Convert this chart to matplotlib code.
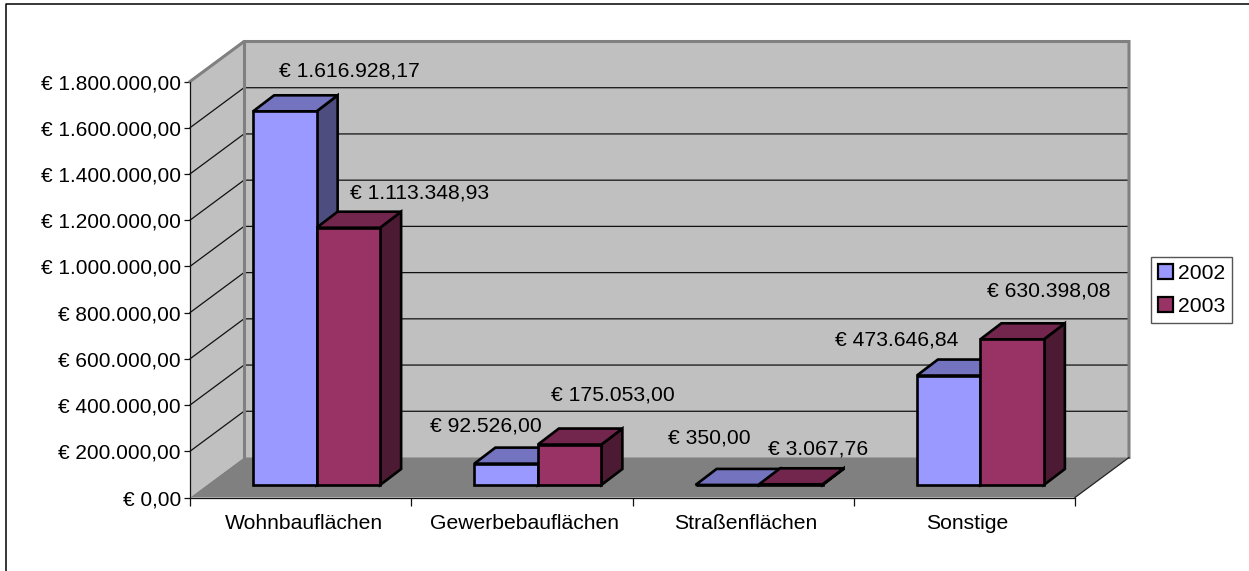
import matplotlib
matplotlib.use("Agg")
import matplotlib.pyplot as plt
from matplotlib.patches import Polygon, Rectangle
from matplotlib.ticker import FuncFormatter
from matplotlib.transforms import ScaledTranslation

plt.rcParams['font.family'] = ['Liberation Sans', 'DejaVu Sans']

categories = ["Wohnbauflächen", "Gewerbebauflächen", "Straßenflächen", "Sonstige"]
series_names = ["2002", "2003"]
values_2002 = [1616928.17, 92526.00, 350.00, 473646.84]
values_2003 = [1113348.93, 175053.00, 3067.76, 630398.08]
y_ticks = [0, 200000, 400000, 600000, 800000, 1000000, 1200000, 1400000, 1600000, 1800000]

W, H = 1249, 571
L, R, B, T = 190, 1075, 497.5, 81.5   # front plane in pixels
WALL_PX = (54, 40)
BAR_START_PX = (16, 12.5)
BAR_DEPTH_PX = (21, 16)
BAR_W_PX = 63.5
FS = 15.2

fig = plt.figure(figsize=(W / 100, H / 100), dpi=100, facecolor='white')
ax = fig.add_axes([L / W, (H - B) / H, (R - L) / W, (B - T) / H])
ymax = y_ticks[-1]
ax.set_xlim(0, len(categories))
ax.set_ylim(0, ymax)
ax.patch.set_visible(False)

px = (R - L) / len(categories)      # pixels per category
py = (B - T) / ymax                 # pixels per value unit


def d(dx_px, dy_px):
    return dx_px / px, dy_px / py


wx, wy = d(*WALL_PX)
n = len(categories)
grey = '#808080'
wall = '#C0C0C0'

# walls and floor
ax.add_patch(Polygon([(wx, wy), (n + wx, wy), (n + wx, ymax + wy), (wx, ymax + wy)],
                     fc=wall, ec='none', zorder=1, clip_on=False))
ax.add_patch(Polygon([(0, 0), (wx, wy), (wx, ymax + wy), (0, ymax)],
                     fc=wall, ec='none', zorder=1, clip_on=False))
ax.add_patch(Polygon([(0, 0), (n, 0), (n + wx, wy), (wx, wy)],
                     fc=grey, ec='none', zorder=1.5, clip_on=False))

# gridlines on the walls
for t in y_ticks[1:-1]:
    ax.plot([0, wx, n + wx], [t, t + wy, t + wy], color='#111111', lw=0.9, zorder=2, clip_on=False)

# wall borders
ax.plot([0, wx, n + wx, n + wx], [ymax, ymax + wy, ymax + wy, wy], color=grey, lw=2.2,
        zorder=2.5, clip_on=False, solid_joinstyle='miter')
ax.plot([wx, wx], [wy, ymax + wy], color=grey, lw=2.2, zorder=2.5, clip_on=False)
ax.plot([n, n + wx], [0, wy], color='#222222', lw=0.9, zorder=2.5, clip_on=False)

# bars
sx, sy = d(*BAR_START_PX)
bx, by = d(*BAR_DEPTH_PX)
bw = BAR_W_PX / px
styles = [('#9999FF', '#7373BF', '#4D4D80'), ('#993366', '#73264D', '#4D1A33')]
all_values = [values_2002, values_2003]
# offsets of the value labels from the middle of the bar top, in pixels
label_offsets = [[(65, 40), (-20, 38), (-18, 47), (-52, 36)],
                 [(71, 35), (43, 50), (27, 35), (37, 48)]]


def euro(v, _=None):
    s = f"{v:,.2f}".replace(",", "X").replace(".", ",").replace("X", ".")
    return "€ " + s


for i in range(n):
    for j, vals in enumerate(all_values):
        v = vals[i]
        x0 = i + 0.5 + sx + (j - 1) * bw
        x1 = x0 + bw
        y0, y1 = sy, sy + v
        front, top, side = styles[j]
        kw = dict(ec='black', lw=1.9, joinstyle='miter', clip_on=False, zorder=3 + j)
        ax.add_patch(Polygon([(x1, y0), (x1 + bx, y0 + by), (x1 + bx, y1 + by), (x1, y1)], fc=side, **kw))
        ax.add_patch(Polygon([(x0, y1), (x1, y1), (x1 + bx, y1 + by), (x0 + bx, y1 + by)], fc=top, **kw))
        ax.add_patch(Polygon([(x0, y0), (x1, y0), (x1, y1), (x0, y1)], fc=front, **kw))

for j, vals in enumerate(all_values):
    for i, v in enumerate(vals):
        xc = i + 0.5 + sx + (j - 0.5) * bw
        ox, oy = label_offsets[j][i]
        ax.annotate(euro(v), (xc, sy + v), xytext=(ox * 0.72, oy * 0.72), textcoords='offset points',
                    ha='center', va='center', fontsize=FS, color='black', zorder=10, annotation_clip=False)

# axes
for s in ('top', 'right'):
    ax.spines[s].set_visible(False)
for s in ('left', 'bottom'):
    ax.spines[s].set_linewidth(0.9)
    ax.spines[s].set_color('#111111')
    ax.spines[s].set_zorder(2.6)
ax.set_yticks(y_ticks)
ax.yaxis.set_major_formatter(FuncFormatter(euro))
ax.tick_params(axis='y', length=4, width=0.9, pad=2.5, labelsize=15.0, color='#111111')
ax.set_xticks(range(n + 1))
ax.set_xticklabels([''] * (n + 1))
ax.tick_params(axis='x', which='major', length=5.5, width=0.9, color='#111111')
ax.set_xticks([i + 0.5 for i in range(n)], minor=True)
ax.set_xticklabels(categories, minor=True, fontsize=FS)
ax.tick_params(axis='x', which='minor', length=0, pad=12)
shift = ScaledTranslation(3 / 100, 0, fig.dpi_scale_trans)
for lab in ax.get_xticklabels(minor=True):
    lab.set_transform(lab.get_transform() + shift)

# legend
handles = [Rectangle((0, 0), 1, 1, fc=styles[j][0], ec='black', lw=1.6) for j in range(2)]
leg = fig.legend(handles, series_names, loc='center left',
                 bbox_to_anchor=(1151 / W, 1 - 290 / H), borderaxespad=0, fontsize=FS, frameon=True,
                 fancybox=False, edgecolor='#555555', framealpha=1, handlelength=0.7, handleheight=0.7,
                 handletextpad=0.22, borderpad=0.35, labelspacing=0.66)

# outer frame: only the top and left edges are visible
fig.add_artist(plt.Line2D([5.5 / W, 5.5 / W, 1], [0, 1 - 4 / H, 1 - 4 / H],
                          transform=fig.transFigure, color='black', lw=1.1))

fig.savefig('out.png', dpi=100)
